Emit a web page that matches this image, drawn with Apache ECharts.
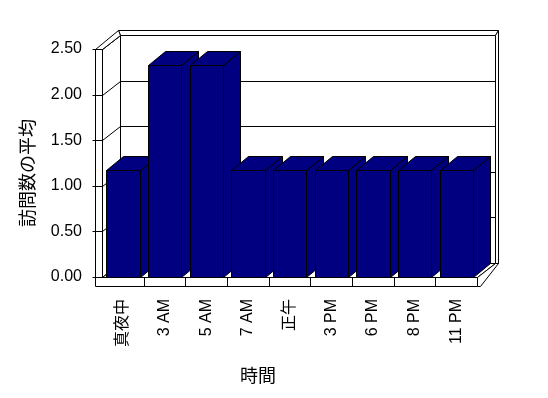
<!DOCTYPE html>
<html>
<head>
<meta charset="utf-8">
<script src="https://cdn.jsdelivr.net/npm/echarts@6/dist/echarts.min.js"></script>
<style>
html,body{margin:0;padding:0;background:#fff;}
#chart{width:548px;height:398px;}
</style>
</head>
<body>
<div id="chart"></div>
<script>
const categories = ['真夜中', '3 AM', '5 AM', '7 AM', '正午', '3 PM', '6 PM', '8 PM', '11 PM'];
const visits = [1.17, 2.33, 2.33, 1.17, 1.17, 1.17, 1.17, 1.17, 1.17];
const yTicks = [0, 0.5, 1.0, 1.5, 2.0, 2.5];
const yTitle = '訪問数の平均';
const xTitle = '時間';

const FONT = "'Liberation Sans','Noto Sans CJK JP',sans-serif";
const BAR_COLOR = '#000080';
const DX = 18, DY = -14;      // wall depth
const BX = 17, BY = -14;      // bar depth
const WT = 7;                 // wall thickness
const FH = 9;                 // floor thickness

function P(v) { return Math.round(v) + 0.5; }
function line(x1, y1, x2, y2) {
  return { type: 'line', shape: { x1: P(x1), y1: P(y1), x2: P(x2), y2: P(y2) },
    style: { stroke: '#000', lineWidth: 1 } };
}
function poly(pts, fill) {
  return { type: 'polygon', shape: { points: pts.map(p => [P(p[0]), P(p[1])]) },
    style: { fill: fill, stroke: '#000', lineWidth: 1 } };
}

function renderFrame(params, api) {
  const band = api.size([1, 0])[0];
  const xl = api.coord([0, 0])[0] - band / 2;
  const xr = api.coord([categories.length - 1, 0])[0] + band / 2;
  const y0 = api.coord([0, yTicks[0]])[1];
  const yT = api.coord([0, yTicks[yTicks.length - 1]])[1];
  const ch = [];
  // back wall inner face
  ch.push(poly([[xl + DX, yT + DY], [xr + DX, yT + DY], [xr + DX, y0 + DY], [xl + DX, y0 + DY]], '#fff'));
  yTicks.forEach(v => {
    const y = api.coord([0, v])[1];
    ch.push(line(xl + DX, y + DY, xr + DX, y + DY));
  });
  // left wall inner face
  ch.push(poly([[xl, yT], [xl + DX, yT + DY], [xl + DX, y0 + DY], [xl, y0]], '#fff'));
  yTicks.forEach(v => {
    const y = api.coord([0, v])[1];
    ch.push(line(xl, y, xl + DX, y + DY));
  });
  // back wall top strip and right strip
  ch.push(poly([[xl + DX - 2, yT + DY - 5], [xr + DX + 3, yT + DY - 5], [xr + DX, yT + DY], [xl + DX, yT + DY]], '#fff'));
  ch.push(poly([[xr + DX, yT + DY], [xr + DX + 3, yT + DY - 5], [xr + DX + 3, y0 + DY], [xr + DX, y0 + DY]], '#fff'));
  // left wall top
  ch.push(poly([[xl - WT, yT], [xl, yT], [xl + DX, yT + DY], [xl + DX - 2, yT + DY - 5]], '#fff'));
  // left wall front face
  ch.push(poly([[xl - WT, yT], [xl, yT], [xl, y0], [xl - WT, y0]], '#fff'));
  yTicks.forEach(v => {
    const y = api.coord([0, v])[1];
    ch.push(line(xl - WT - 3, y, xl, y));
  });
  // floor
  ch.push(poly([[xl, y0], [xr, y0], [xr + DX, y0 + DY], [xl + DX, y0 + DY]], '#fff'));
  ch.push(poly([[xr, y0], [xr + DX, y0 + DY], [xr + DX + 3, y0 + DY], [xr + 3, y0 + FH], [xr, y0 + FH]], '#fff'));
  ch.push(poly([[xl - WT, y0], [xr, y0], [xr, y0 + FH], [xl - WT, y0 + FH]], '#fff'));
  for (let k = 1; k < categories.length; k++) {
    const x = xl + k * band;
    ch.push(line(x, y0, x, y0 + FH));
  }
  return { type: 'group', children: ch };
}

function renderBar(params, api) {
  const idx = api.value(0);
  const val = api.value(1);
  const top = api.coord([idx, val]);
  const bot = api.coord([idx, 0]);
  const band = api.size([1, 0])[0];
  const w = band * 0.8;
  const x1 = top[0] - w / 2, x2 = top[0] + w / 2;
  const yt = top[1], yb = bot[1];
  return {
    type: 'group',
    children: [
      poly([[x2, yt], [x2 + BX, yt + BY], [x2 + BX, yb + BY], [x2, yb]], BAR_COLOR),
      poly([[x1, yt], [x2, yt], [x2 + BX, yt + BY], [x1 + BX, yt + BY]], BAR_COLOR),
      poly([[x1, yt], [x2, yt], [x2, yb], [x1, yb]], BAR_COLOR)
    ]
  };
}

const chart = echarts.init(document.getElementById('chart'), null, { renderer: 'canvas' });
chart.setOption({
  animation: false,
  backgroundColor: '#fff',
  grid: { left: 102, right: 71, top: 49, bottom: 121, containLabel: false },
  xAxis: {
    type: 'category',
    data: categories,
    axisLine: { show: false },
    axisTick: { show: false },
    splitLine: { show: false },
    axisLabel: { rotate: 90, margin: 22, color: '#000', fontSize: 16, fontFamily: FONT, interval: 0 }
  },
  yAxis: {
    type: 'value',
    min: yTicks[0],
    max: yTicks[yTicks.length - 1],
    interval: 0.5,
    axisLine: { show: false },
    axisTick: { show: false },
    splitLine: { show: false },
    axisLabel: { margin: 20, color: '#000', fontSize: 16, fontFamily: FONT, formatter: v => v.toFixed(2) }
  },
  graphic: [
    { type: 'text', x: 29, y: 173, rotation: Math.PI / 2,
      style: { text: yTitle, fill: '#000', font: '18px ' + FONT, align: 'center', verticalAlign: 'middle' } },
    { type: 'text', x: 258, y: 377,
      style: { text: xTitle, fill: '#000', font: '18px ' + FONT, align: 'center', verticalAlign: 'middle' } }
  ],
  series: [
    { type: 'custom', z: 1, silent: true, clip: false, renderItem: renderFrame, data: [[0, 0]] },
    { type: 'custom', z: 2, silent: true, clip: false, renderItem: renderBar,
      data: visits.map((v, i) => [i, v]) }
  ]
});
</script>
</body>
</html>
